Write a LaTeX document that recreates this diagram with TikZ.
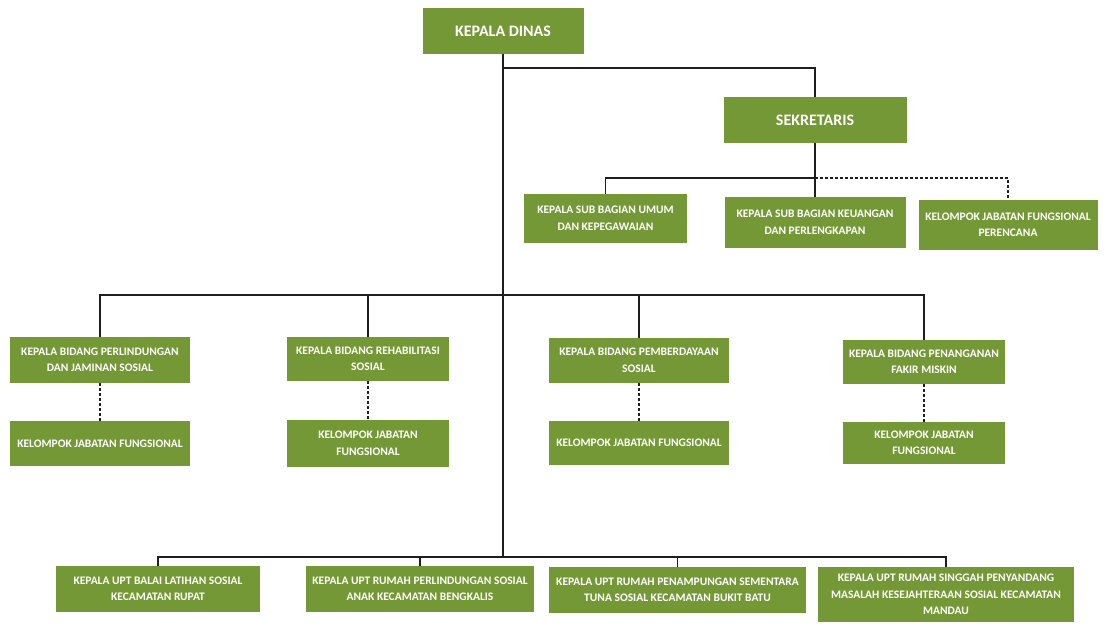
\documentclass[tikz,border=0pt]{standalone}
\usepackage{fontspec}
\setmainfont{Carlito}
\definecolor{boxgreen}{RGB}{117,152,54}
\definecolor{linecol}{RGB}{30,30,30}
\begin{document}
\begin{tikzpicture}[x=1pt,y=-1pt,
  box/.style={draw=none,fill=boxgreen,text=white,font=\bfseries\fontsize{11.5}{16.5}\selectfont,
    align=center,inner sep=0pt,anchor=center},
  bigbox/.style={box,font=\bfseries\fontsize{16}{19}\selectfont},
  conn/.style={draw=linecol,line width=1.8pt},
  dconn/.style={draw=linecol,line width=2pt,dash pattern=on 2.5pt off 2.5pt}]
\useasboundingbox[fill=white] (0,0) rectangle (1113,624);

\node[bigbox,minimum width=161pt,minimum height=46pt] (kd) at (503,31) {KEPALA DINAS};
\node[bigbox,minimum width=183pt,minimum height=46pt] (sek) at (815,120) {SEKRETARIS};

\node[box,minimum width=163pt,minimum height=49pt] (s1) at (605.5,218.5) {KEPALA SUB BAGIAN UMUM\\DAN KEPEGAWAIAN};
\node[box,minimum width=181pt,minimum height=51pt] (s2) at (815,222.5) {KEPALA SUB BAGIAN KEUANGAN\\DAN PERLENGKAPAN};
\node[box,minimum width=179pt,minimum height=50pt] (s3) at (1008,225) {KELOMPOK JABATAN FUNGSIONAL\\PERENCANA};

\node[box,minimum width=180pt,minimum height=46pt] (A) at (100,360) {KEPALA BIDANG PERLINDUNGAN\\DAN JAMINAN SOSIAL};
\node[box,minimum width=162pt,minimum height=44pt] (B) at (368,359) {KEPALA BIDANG REHABILITASI\\SOSIAL};
\node[box,minimum width=180pt,minimum height=45pt] (C) at (639,360.5) {KEPALA BIDANG PEMBERDAYAAN\\SOSIAL};
\node[box,minimum width=162pt,minimum height=44pt] (D) at (924,362) {KEPALA BIDANG PENANGANAN\\FAKIR MISKIN};

\node[box,minimum width=180pt,minimum height=45pt] (A2) at (100,443.5) {KELOMPOK JABATAN FUNGSIONAL};
\node[box,minimum width=162pt,minimum height=47pt] (B2) at (368,443.5) {KELOMPOK JABATAN\\FUNGSIONAL};
\node[box,minimum width=180pt,minimum height=44pt] (C2) at (639,443) {KELOMPOK JABATAN FUNGSIONAL};
\node[box,minimum width=162pt,minimum height=42pt] (D2) at (924,443) {KELOMPOK JABATAN\\FUNGSIONAL};

\node[box,minimum width=204pt,minimum height=46pt] (E) at (158,589) {KEPALA UPT BALAI LATIHAN SOSIAL\\KECAMATAN RUPAT};
\node[box,minimum width=228pt,minimum height=46pt] (F) at (420,589) {KEPALA UPT RUMAH PERLINDUNGAN SOSIAL\\ANAK KECAMATAN BENGKALIS};
\node[box,minimum width=257pt,minimum height=46pt] (G) at (677.5,590) {KEPALA UPT RUMAH PENAMPUNGAN SEMENTARA\\TUNA SOSIAL KECAMATAN BUKIT BATU};
\node[box,minimum width=256pt,minimum height=55pt] (H) at (946,594.5) {KEPALA UPT RUMAH SINGGAH PENYANDANG\\MASALAH KESEJAHTERAAN SOSIAL KECAMATAN\\MANDAU};

\coordinate (b1) at (0,68);
\coordinate (bs) at (815,178);
\coordinate (b2) at (0,295);
\coordinate (b3) at (0,557);

% main trunk
\draw[conn] (kd.south) -- (kd.south |- b3);
\draw[conn] (kd.south |- b1) -| (sek.north);
% sekretaris
\draw[conn] (sek.south) -- (s2.north);
\draw[conn] (s1.north) |- (bs);
\draw[dconn] (bs) -| (s3.north);
% bidang bus
\draw[conn] (A.north) -- (A.north |- b2) -- (D.north |- b2) -- (D.north);
\draw[conn] (B.north) -- (B.north |- b2);
\draw[conn] (C.north) -- (C.north |- b2);
% fungsional dotted
\draw[dconn] (A.south) -- (A2.north);
\draw[dconn] (B.south) -- (B2.north);
\draw[dconn] (C.south) -- (C2.north);
\draw[dconn] (D.south) -- (D2.north);
% UPT bus
\draw[conn] (E.north) -- (E.north |- b3) -- (H.north |- b3) -- (H.north);
\draw[conn] (F.north) -- (F.north |- b3);
\draw[conn] (G.north) -- (G.north |- b3);
\end{tikzpicture}
\end{document}
